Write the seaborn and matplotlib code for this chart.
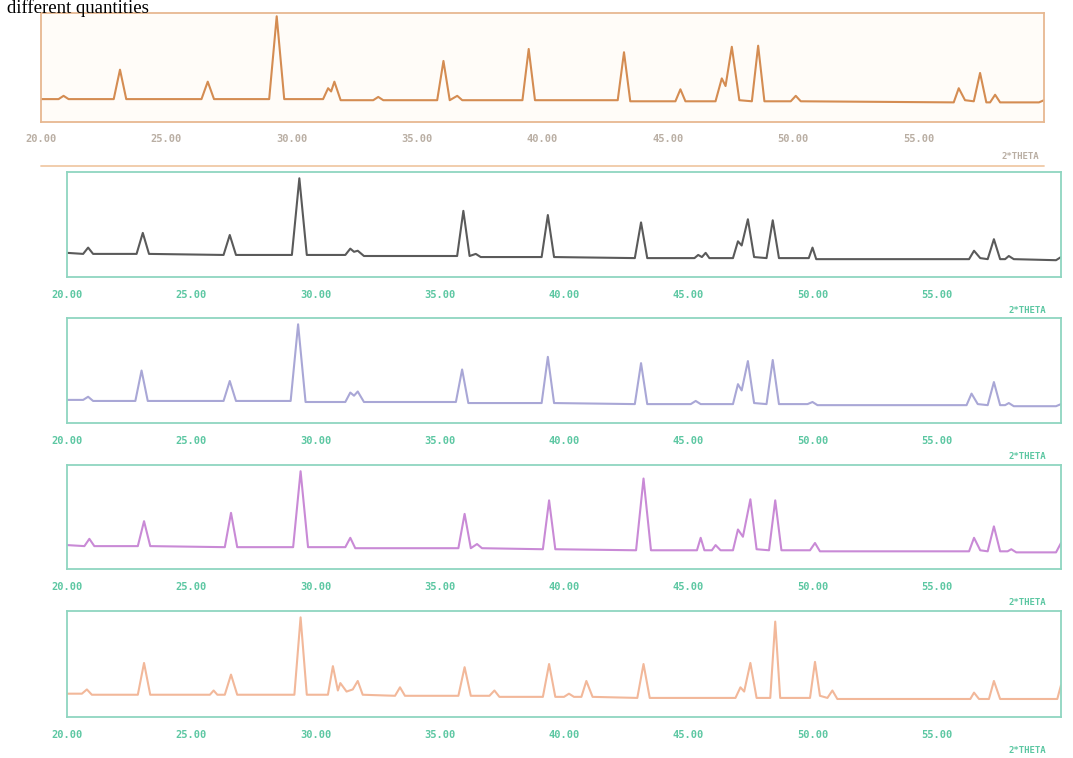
import numpy as np
import pandas as pd
import matplotlib
matplotlib.use("Agg")
import matplotlib.pyplot as plt
import seaborn as sns

# XRD patterns, 2theta vs relative intensity (0-100)
tt_1 = [20.0, 20.7, 20.9, 21.1, 22.9, 23.15, 23.4, 26.4, 26.65, 26.9, 29.1, 29.4, 29.7,
        31.25, 31.45, 31.57, 31.7, 31.95, 33.25, 33.45, 33.65, 35.8, 36.05, 36.3, 36.6, 36.8,
        39.2, 39.45, 39.7, 43.0, 43.25, 43.5, 45.3, 45.5, 45.7, 46.9, 47.15, 47.3, 47.55, 47.85,
        48.35, 48.6, 48.85, 49.9, 50.1, 50.3, 56.4, 56.6, 56.85, 57.2, 57.45, 57.7, 57.85, 58.05,
        58.25, 59.8, 60.0]
int_1 = [21, 21, 24, 21, 21, 48, 21, 21, 37, 21, 21, 97, 21,
         21, 31, 28, 37, 20, 20, 23, 20, 20, 56, 20, 24, 20,
         20, 67, 20, 20, 64, 19, 19, 30, 19, 19, 40, 33, 69, 20,
         19, 70, 19, 19, 24, 19, 18, 31, 20, 19, 45, 18, 18, 25,
         18, 18, 20]

tt_2 = [20.0, 20.65, 20.85, 21.05, 22.8, 23.05, 23.3, 26.3, 26.55, 26.8, 29.05, 29.35, 29.65,
        31.2, 31.4, 31.55, 31.7, 31.95, 35.7, 35.95, 36.2, 36.45, 36.65, 39.1, 39.35, 39.6,
        42.85, 43.1, 43.35, 45.25, 45.4, 45.55, 45.7, 45.85, 46.8, 47.0, 47.15, 47.4, 47.65,
        48.15, 48.4, 48.65, 49.85, 50.0, 50.15, 56.3, 56.5, 56.75, 57.05, 57.3, 57.55, 57.75,
        57.9, 58.1, 59.8, 60.0]
int_2 = [23, 22, 28, 22, 22, 42, 22, 21, 40, 21, 21, 94, 21,
         21, 27, 24, 25, 20, 20, 63, 20, 22, 19, 19, 59, 19,
         18, 52, 18, 18, 21, 19, 23, 18, 18, 34, 30, 55, 19,
         18, 54, 18, 18, 28, 17, 17, 25, 18, 17, 36, 17, 17,
         20, 17, 16, 19]

tt_3 = [20.0, 20.65, 20.85, 21.05, 22.75, 23.0, 23.25, 26.3, 26.55, 26.8, 29.0, 29.3, 29.6,
        31.2, 31.4, 31.55, 31.7, 31.95, 35.65, 35.9, 36.15, 39.1, 39.35, 39.6, 42.85, 43.1, 43.35,
        45.1, 45.3, 45.5, 46.8, 47.0, 47.15, 47.4, 47.65, 48.15, 48.4, 48.65, 49.8, 50.0, 50.2,
        56.2, 56.4, 56.65, 57.05, 57.3, 57.55, 57.75, 57.9, 58.1, 59.8, 60.0]
int_3 = [22, 22, 25, 21, 21, 50, 21, 21, 40, 21, 21, 94, 20,
         20, 29, 26, 30, 20, 20, 51, 19, 19, 63, 19, 18, 57, 18,
         18, 21, 18, 18, 37, 31, 59, 19, 18, 60, 18, 18, 20, 17,
         17, 28, 18, 17, 39, 17, 17, 19, 16, 16, 18]

tt_4 = [20.0, 20.7, 20.9, 21.1, 22.85, 23.1, 23.35, 26.35, 26.6, 26.85, 29.1, 29.4, 29.7,
        31.2, 31.4, 31.6, 35.75, 36.0, 36.25, 36.5, 36.7, 39.15, 39.4, 39.65, 42.9, 43.2, 43.5,
        45.35, 45.5, 45.65, 45.95, 46.1, 46.3, 46.8, 47.0, 47.2, 47.5, 47.75, 48.25, 48.5, 48.75,
        49.9, 50.1, 50.3, 56.3, 56.5, 56.75, 57.05, 57.3, 57.55, 57.85, 58.0, 58.2, 59.8, 60.0]
int_4 = [23, 22, 29, 22, 22, 46, 22, 21, 54, 21, 21, 94, 21,
         21, 30, 20, 20, 53, 20, 24, 20, 19, 66, 19, 18, 87, 18,
         18, 30, 18, 18, 23, 18, 18, 38, 31, 67, 19, 18, 66, 18,
         18, 25, 17, 17, 30, 18, 17, 41, 17, 17, 19, 16, 16, 25]

tt_5 = [20.0, 20.6, 20.8, 21.0, 22.85, 23.1, 23.35, 25.75, 25.9, 26.05, 26.35, 26.6, 26.85,
        29.15, 29.4, 29.65, 30.5, 30.7, 30.9, 31.0, 31.25, 31.5, 31.7, 31.9, 33.2, 33.4, 33.6,
        35.75, 36.0, 36.25, 37.0, 37.2, 37.4, 39.15, 39.4, 39.65, 40.0, 40.2, 40.4, 40.7, 40.9,
        41.15, 42.95, 43.2, 43.45, 46.9, 47.1, 47.25, 47.5, 47.75, 48.3, 48.5, 48.7, 49.9, 50.1,
        50.3, 50.6, 50.8, 51.0, 56.35, 56.5, 56.7, 57.1, 57.3, 57.55, 59.85, 60.0]
int_5 = [22, 22, 26, 21, 21, 51, 21, 21, 25, 21, 21, 40, 21,
         21, 94, 21, 21, 48, 25, 32, 24, 26, 34, 21, 20, 28, 20,
         20, 47, 20, 20, 25, 19, 19, 50, 19, 19, 22, 19, 19, 34,
         19, 18, 50, 18, 18, 28, 24, 51, 18, 18, 90, 18, 18, 52,
         20, 18, 25, 17, 17, 23, 17, 17, 34, 17, 17, 30]

x_ticks = [20, 25, 30, 35, 40, 45, 50, 55]
x_tick_labels = ["20.00", "25.00", "30.00", "35.00", "40.00", "45.00", "50.00", "55.00"]

sns.set_theme(style="white")

fig = plt.figure(figsize=(10.73, 7.58), dpi=100)

# panel boxes in pixels: left, top, right, bottom
boxes = [(41, 13, 1044, 122), (67, 172, 1061, 277), (67, 318, 1061, 423),
         (67, 465, 1061, 569), (67, 611, 1061, 717)]
traces = [(tt_1, int_1), (tt_2, int_2), (tt_3, int_3), (tt_4, int_4), (tt_5, int_5)]
line_cols = ["#d48c52", "#5a5a5a", "#a9a7d6", "#c98ad6", "#f2b89a"]
frame_cols = ["#e7b891", "#8fd6c0", "#8fd6c0", "#8fd6c0", "#8fd6c0"]
label_cols = ["#b9aea3", "#5cc7a2", "#5cc7a2", "#5cc7a2", "#5cc7a2"]

W, H = 1073, 758
for i, ((l, t, r, b), (xs, ys)) in enumerate(zip(boxes, traces)):
    ax = fig.add_axes([l / W, 1 - b / H, (r - l) / W, (b - t) / H])
    if i == 0:
        ax.set_facecolor("#fffcf8")
    df = pd.DataFrame({"two_theta": xs, "intensity": ys})
    sns.lineplot(data=df, x="two_theta", y="intensity", ax=ax,
                 color=line_cols[i], linewidth=1.5)
    ax.set_xlim(20, 60)
    ax.set_ylim(0, 100)
    ax.set_xticks(x_ticks)
    ax.set_xticklabels(x_tick_labels, family="DejaVu Sans Mono", fontsize=7.5,
                       color=label_cols[i], fontweight="bold")
    ax.set_yticks([0, 25, 50, 75, 100])
    ax.set_yticklabels([])
    ax.tick_params(axis="both", direction="out", length=4, width=1,
                   colors=frame_cols[i], pad=5)
    ax.tick_params(axis="x", labelcolor=label_cols[i])
    for sp in ax.spines.values():
        sp.set_visible(True)
        sp.set_color(frame_cols[i])
        sp.set_linewidth(1.3)
    ax.set_xlabel("")
    ax.set_ylabel("")
    ax.text(0.995 if i == 0 else 0.985, -0.32, "2*THETA", transform=ax.transAxes,
            ha="right", va="center", family="DejaVu Sans Mono", fontsize=6.5,
            color=label_cols[i], fontweight="bold")
    if i == 0:
        ax.plot([0, 1], [-0.4, -0.4], transform=ax.transAxes, clip_on=False,
                color="#f0c9a6", linewidth=1.3)

fig.text(7 / W, 1 - 13 / H, "different quantities", family="Liberation Serif",
         fontsize=13.5, va="baseline", ha="left", color="black")

fig.savefig("out.png", dpi=100)
